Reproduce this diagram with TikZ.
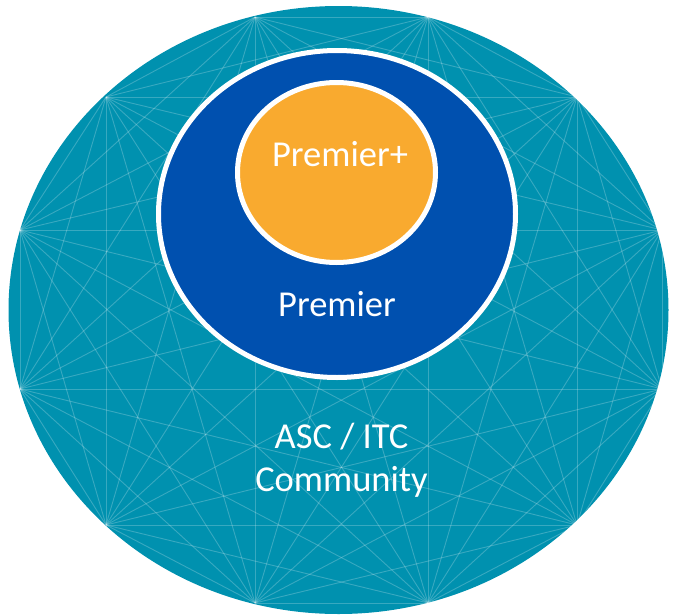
\documentclass[tikz,border=0pt]{standalone}
\usepackage{fontspec}
\setmainfont{Carlito}
\usetikzlibrary{shapes.geometric}
\definecolor{ascteal}{RGB}{0,145,175}
\definecolor{premblue}{RGB}{0,80,175}
\definecolor{plusorange}{RGB}{249,170,47}
\begin{document}
\begin{tikzpicture}[x=1pt,y=-1pt,ring/.style={shape=ellipse,inner sep=0pt,draw=white,line width=5pt},mesh/.style={white,opacity=0.22,line width=0.9pt},lbl/.style={anchor=base,text=white,font=\fontsize{36.5}{40}\selectfont}]
\def\cx{338.5};
\def\cy{310};
\useasboundingbox (0,0) rectangle (675,616);

\node[shape=ellipse,inner sep=0pt,fill=ascteal,minimum width=660pt,minimum height=608pt] (comm) at (\cx,\cy) {};

% star mesh
\begin{scope}
\clip (\cx,\cy) ellipse [x radius=330pt,y radius=304pt];
\foreach \x/\y [count=\i] in {255/17,428/17,577/97,662/230,662/389,577/525,428/603,255/603,106/525,20/389,20/230,106/97}
  \coordinate (v\i) at (\x,\y);
\foreach \i in {1,...,11}{
  \pgfmathtruncatemacro{\k}{\i+1}
  \foreach \j in {\k,...,12}
    \draw[mesh] (v\i) -- (v\j);
}
\end{scope}

\node[ring,fill=premblue,minimum width=357pt,minimum height=327pt] (prem) at (337,214) {};
\node[ring,fill=plusorange,minimum width=198pt,minimum height=180pt] (plus) at (336.5,172.5) {};

\node[lbl] (plustext) at (340,166.7) {Premier+};
\node[lbl] (premtext) at (337,316.7) {Premier};
\node[lbl] (asctext) at (341.5,448.5) {ASC / ITC};
\node[lbl] (commtext) at (341.5,491) {Community};
\end{tikzpicture}
\end{document}
